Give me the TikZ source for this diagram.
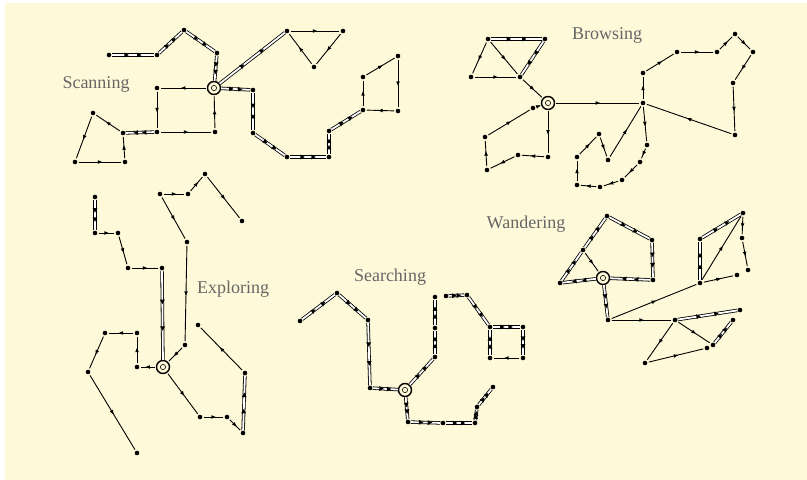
\documentclass[tikz,border=0pt]{standalone}
\usepackage{fontspec}
\setmainfont{Liberation Serif}
\usepackage{tikz}
\usetikzlibrary{arrows,shapes,positioning,decorations.markings}

\definecolor{paper}{RGB}{254,249,217}

\begin{document}
\begin{tikzpicture}[x=0.5pt, y=-0.5pt, line width=0.45pt,
    visit/.style={circle, fill=black, draw=none, inner sep=0pt, minimum size=2.3pt},
    hub/.style={circle, draw, line width=0.7pt, fill=paper, inner sep=0pt, minimum size=6.5pt,
        path picture={\draw[line width=0.3pt] (path picture bounding box.center) circle (1.3pt);
            \fill (path picture bounding box.center) circle (0.5pt);}},
    leg/.style={shorten <=0.6pt, shorten >=0.6pt, postaction={decorate},
        decoration={markings, mark=at position 0.5 with {\fill (-1.1pt,-0.9pt) -- (1.1pt,0) -- (-1.1pt,0.9pt) -- cycle;}}},
    trail/.style={double, double distance=0.9pt, line width=0.4pt, postaction={decorate},
        decoration={markings,
            mark=at position 0.35 with {\fill (-1.1pt,-1.2pt) -- (1.1pt,0) -- (-1.1pt,1.2pt) -- cycle;},
            mark=at position 0.65 with {\fill (-1.1pt,-1.2pt) -- (1.1pt,0) -- (-1.1pt,1.2pt) -- cycle;}}},
    modename/.style={text=black!60, font=\fontsize{9}{10}\selectfont}]

    % paper
    \fill[white] (0,0) rectangle (807,480);
    \fill[paper] (5,3) rectangle (807,480);
    \useasboundingbox (0,0) rectangle (807,480);

    % labels
    \node[modename] (lscan) at (96,84) {Scanning};
    \node[modename] (lbrow) at (607,35) {Browsing};
    \node[modename] (lexpl) at (233,289) {Exploring};
    \node[modename] (lsear) at (390,277) {Searching};
    \node[modename] (lwand) at (526,224) {Wandering};

    % scanning
    \node[hub] (scH) at (214,88) {};
    \foreach \n/\p in {1/{109,55}, 2/{157,55}, 3/{184,30}, 4/{217,53}, 5/{287,31}, 6/{343,31},
        7/{314,67}, 8/{157,88}, 9/{157,132}, 10/{215,132}, 11/{123,133}, 12/{93,113},
        13/{75,162}, 14/{125,162}, 15/{253,90}, 16/{253,133}, 17/{287,157}, 18/{329,157},
        19/{329,131}, 20/{363,110}, 21/{363,77}, 22/{398,56}, 23/{398,111}}
        \node[visit] (sc\n) at (\p) {};
    \foreach \a/\b in {sc1/sc2, sc2/sc3, sc3/sc4, sc4/scH, scH/sc5, sc9/sc11, scH/sc15,
        sc15/sc16, sc16/sc17, sc17/sc18, sc18/sc19, sc19/sc20}
        \draw[trail] (\a) -- (\b);
    \foreach \a/\b in {sc5/sc6, sc6/sc7, sc7/sc5, scH/sc8, sc8/sc9, sc9/sc10, sc10/scH,
        sc11/sc12, sc12/sc13, sc13/sc14, sc14/sc11, sc20/sc21, sc21/sc22, sc22/sc23, sc23/sc20}
        \draw[leg] (\a) -- (\b);

    % browsing
    \node[hub] (brH) at (548,103) {};
    \foreach \n/\p in {1/{488,39}, 2/{545,39}, 3/{520,77}, 4/{471,77}, 5/{643,103},
        6/{643,73}, 7/{677,52}, 8/{717,52}, 9/{735,34}, 10/{753,52}, 11/{733,83},
        12/{735,135}, 13/{647,145}, 14/{640,162}, 15/{622,180}, 16/{600,187},
        17/{577,185}, 18/{577,157}, 19/{599,134}, 20/{608,160}, 21/{548,157},
        22/{518,155}, 23/{487,170}, 24/{485,137}, 25/{533,108}}
        \node[visit] (br\n) at (\p) {};
    \foreach \a/\b in {br1/br2, br2/br3}
        \draw[trail] (\a) -- (\b);
    \foreach \a/\b in {br1/br3, br1/br4, br4/br3, br3/brH, brH/br5, br5/br6, br6/br7,
        br7/br8, br8/br9, br9/br10, br10/br11, br11/br12, br12/br5, br5/br13, br13/br14,
        br14/br15, br15/br16, br16/br17, br17/br18, br18/br19, br19/br20, br20/br5,
        brH/br21, br21/br22, br22/br23, br23/br24, br24/br25, br25/brH}
        \draw[leg] (\a) -- (\b);

    % exploring
    \node[hub] (exH) at (163,367) {};
    \foreach \n/\p in {1/{95,197}, 2/{95,233}, 3/{118,233}, 4/{128,268}, 5/{162,268},
        6/{160,194}, 7/{188,194}, 8/{205,174}, 9/{242,221}, 10/{187,242}, 11/{185,345},
        12/{137,367}, 13/{137,333}, 14/{105,333}, 15/{88,372}, 16/{137,453},
        17/{200,417}, 18/{227,417}, 19/{243,433}, 20/{245,373}, 21/{198,325}}
        \node[visit] (ex\n) at (\p) {};
    \foreach \a/\b in {ex1/ex2, ex5/exH, ex19/ex20}
        \draw[trail] (\a) -- (\b);
    \foreach \a/\b in {ex2/ex3, ex3/ex4, ex4/ex5, ex6/ex7, ex7/ex8, ex8/ex9, ex6/ex10,
        ex10/ex11, ex11/exH, exH/ex12, ex12/ex13, ex13/ex14, ex14/ex15, ex15/ex16,
        exH/ex17, ex17/ex18, ex18/ex19, ex20/ex21}
        \draw[leg] (\a) -- (\b);

    % searching
    \node[hub] (seH) at (405,390) {};
    \foreach \n/\p in {1/{300,321}, 2/{337,293}, 3/{368,320}, 4/{370,388}, 5/{435,357},
        6/{435,328}, 7/{435,297}, 8/{446,296}, 9/{467,295}, 10/{490,327}, 11/{523,327},
        12/{523,358}, 13/{490,358}, 14/{408,422}, 15/{443,423}, 16/{475,423},
        17/{477,407}, 18/{493,387}}
        \node[visit] (se\n) at (\p) {};
    \foreach \a/\b in {se1/se2, se2/se3, se3/se4, se4/seH, seH/se5, se5/se6, se6/se7,
        se8/se9, se9/se10, se10/se11, se11/se12, se13/se10, seH/se14, se14/se15,
        se15/se16, se16/se17, se17/se18}
        \draw[trail] (\a) -- (\b);
    \foreach \a/\b in {se12/se13}
        \draw[leg] (\a) -- (\b);

    % wandering
    \node[hub] (waH) at (603,278) {};
    \foreach \n/\p in {1/{607,216}, 2/{652,240}, 3/{653,280}, 4/{560,283}, 5/{583,250},
        6/{608,320}, 7/{675,320}, 8/{700,283}, 9/{700,239}, 10/{743,213}, 11/{742,238},
        12/{748,270}, 13/{737,275}, 14/{740,310}, 15/{713,345}, 16/{733,320},
        17/{645,363}, 18/{707,348}}
        \node[visit] (wa\n) at (\p) {};
    \foreach \a/\b in {wa1/wa2, wa2/wa3, wa3/waH, waH/wa4, wa4/wa5, wa5/wa1, waH/wa6,
        wa8/wa9, wa9/wa10, wa7/wa14, wa15/wa16}
        \draw[trail] (\a) -- (\b);
    \foreach \a/\b in {wa5/waH, wa6/wa7, wa6/wa8, wa10/wa11, wa11/wa12, wa8/wa10,
        wa8/wa13, wa7/wa15, wa7/wa17, wa17/wa18}
        \draw[leg] (\a) -- (\b);
\end{tikzpicture}
\end{document}
